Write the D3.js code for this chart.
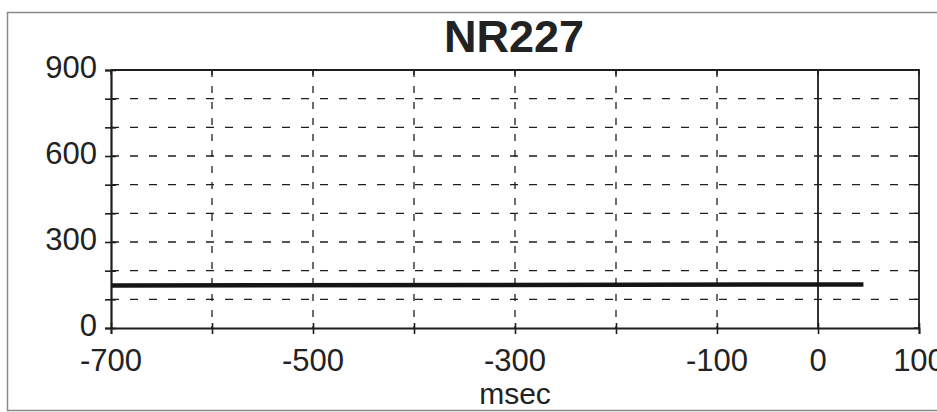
<!DOCTYPE html>
<html>
<head>
<meta charset="utf-8">
<script src="https://cdn.jsdelivr.net/npm/d3@7"></script>
<style>
  html, body { margin: 0; padding: 0; background: #fff; overflow: hidden; }
  text { font-family: "Liberation Sans", Arial, sans-serif; fill: #222; }
</style>
</head>
<body>
<svg id="chart" width="937" height="412"></svg>
<script>
// chart values
const title = 'NR227';
const xLabel = 'msec';
const xTicks = [-700, -600, -500, -400, -300, -200, -100, 0, 100];
const xTickLabels = [-700, -500, -300, -100, 0, 100];
const yTicks = [0, 100, 200, 300, 400, 500, 600, 700, 800, 900];
const yTickLabels = [0, 300, 600, 900];
const msec = [-700, 45];
const values = [148, 152];

const margin = { top: 70, right: 18, bottom: 84, left: 111 };
const width = 937;
const height = 412;

const x = d3.scaleLinear().domain([-700, 100]).range([margin.left, width - margin.right]);
const y = d3.scaleLinear().domain([0, 900]).range([height - margin.bottom, margin.top]);

const svg = d3.select('#chart');
const ink = '#1e1e1e';

// outer frame
svg.append('rect')
  .attr('x', 7.5).attr('y', 12.5)
  .attr('width', 960).attr('height', 398)
  .attr('fill', 'none').attr('stroke', '#8a8a8a').attr('stroke-width', 1.5);

// dashed grid
svg.append('g')
  .selectAll('line')
  .data(yTicks.filter((d) => d > 0 && d < 900))
  .join('line')
  .attr('x1', x(-700)).attr('x2', x(100))
  .attr('y1', (d) => y(d)).attr('y2', (d) => y(d))
  .attr('stroke', ink).attr('stroke-width', 1.3)
  .attr('stroke-dasharray', '8,11');

svg.append('g')
  .selectAll('line')
  .data(xTicks.filter((d) => d > -700 && d < 0))
  .join('line')
  .attr('x1', (d) => x(d)).attr('x2', (d) => x(d))
  .attr('y1', y(900)).attr('y2', y(0))
  .attr('stroke', ink).attr('stroke-width', 1.3)
  .attr('stroke-dasharray', '7,9');

// solid line at zero
svg.append('line')
  .attr('x1', x(0)).attr('x2', x(0))
  .attr('y1', y(900)).attr('y2', y(0))
  .attr('stroke', ink).attr('stroke-width', 1.8);

// plot border (top, right)
svg.append('path')
  .attr('d', `M${x(-700)},${y(900)}H${x(100)}V${y(0)}`)
  .attr('fill', 'none').attr('stroke', ink).attr('stroke-width', 1.8);

// axes
const xAxis = (g) => g
  .attr('transform', `translate(0,${y(0)})`)
  .call(d3.axisBottom(x).tickValues(xTicks).tickSize(6).tickFormat(''))
  .call((g) => g.selectAll('.tick line').attr('y1', -5).attr('stroke', ink).attr('stroke-width', 1.6))
  .call((g) => g.select('.domain').attr('stroke', ink).attr('stroke-width', 1.8));

const yAxis = (g) => g
  .attr('transform', `translate(${x(-700)},0)`)
  .call(d3.axisLeft(y).tickValues(yTicks).tickSize(6).tickFormat(''))
  .call((g) => g.selectAll('.tick line').attr('x1', 5).attr('x2', -6).attr('stroke', ink).attr('stroke-width', 1.6))
  .call((g) => g.select('.domain').attr('stroke', ink).attr('stroke-width', 2.2));

svg.append('g').call(xAxis);
svg.append('g').call(yAxis);

// small ticks on the top and right border
svg.append('g')
  .selectAll('line')
  .data(xTicks)
  .join('line')
  .attr('x1', (d) => x(d)).attr('x2', (d) => x(d))
  .attr('y1', y(900)).attr('y2', y(900) + 5)
  .attr('stroke', ink).attr('stroke-width', 1.4);

svg.append('g')
  .selectAll('line')
  .data(yTicks)
  .join('line')
  .attr('x1', x(100) - 5).attr('x2', x(100))
  .attr('y1', (d) => y(d)).attr('y2', (d) => y(d))
  .attr('stroke', ink).attr('stroke-width', 1.4);

// tick labels
svg.append('g')
  .selectAll('text')
  .data(xTickLabels)
  .join('text')
  .attr('x', (d) => x(d))
  .attr('y', 371)
  .attr('text-anchor', 'middle')
  .attr('font-size', 31)
  .text((d) => d);

svg.append('g')
  .selectAll('text')
  .data(yTickLabels)
  .join('text')
  .attr('x', 97)
  .attr('y', (d) => y(d) + 8)
  .attr('text-anchor', 'end')
  .attr('font-size', 31)
  .text((d) => d);

// data line
const line = d3.line().x((d) => x(d[0])).y((d) => y(d[1]));
svg.append('path')
  .datum(msec.map((m, i) => [m, values[i]]))
  .attr('d', line)
  .attr('fill', 'none')
  .attr('stroke', '#151515')
  .attr('stroke-width', 4.5);

// title and axis label
svg.append('text')
  .attr('x', 514).attr('y', 52)
  .attr('text-anchor', 'middle')
  .attr('font-size', 45)
  .attr('font-weight', 'bold')
  .text(title);

svg.append('text')
  .attr('x', x(-300)).attr('y', 404)
  .attr('text-anchor', 'middle')
  .attr('font-size', 30)
  .text(xLabel);
</script>
</body>
</html>
